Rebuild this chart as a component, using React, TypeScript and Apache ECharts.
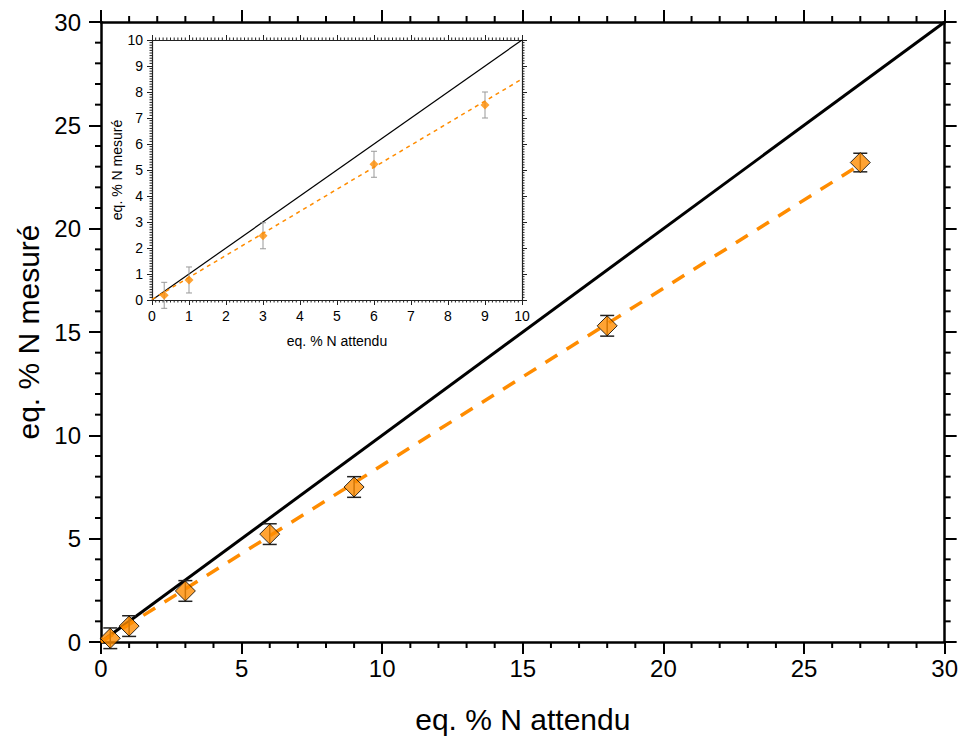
import React, { useEffect, useRef } from "react";
import * as echarts from "echarts";

// Data
const expectedN = [0.33, 1, 3, 6, 9, 18, 27];
const measuredN = [0.18, 0.77, 2.47, 5.22, 7.5, 15.3, 23.2];
const errorN = [0.5, 0.5, 0.5, 0.5, 0.5, 0.5, 0.45];

const identityX = [0, 30];
const identityY = [0, 30];
const fitX = [0, 27];
const fitY = [0.0, 23.1];

const insetIdentityX = [0, 10];
const insetIdentityY = [0, 10];
const insetFitX = [0, 10];
const insetFitY = [0.02, 8.5];

const xTitle = "eq. % N attendu";
const yTitle = "eq. % N mesuré";

const ORANGE = "#FF8C00";
const FONT = "Liberation Sans, Arial, sans-serif";

const pairs = (xs: number[], ys: number[]) => xs.map((x, i) => [x, ys[i]]);
const triples = (xs: number[], ys: number[], es: number[]) => xs.map((x, i) => [x, ys[i], es[i]]);

// minor tick positions (axis decoration, not data)
function minorTickValues(max: number, major: number, step: number) {
  const out: number[] = [];
  const n = Math.round(max / step);
  const per = Math.round(major / step);
  for (let i = 1; i < n; i++) if (i % per !== 0) out.push(+(i * step).toFixed(4));
  return out;
}

function errRender(cap: number, color: string, width: number) {
  return (params: any, api: any) => {
    const x = api.value(0);
    const y = api.value(1);
    const e = api.value(2);
    const top = api.coord([x, y + e]);
    const bot = api.coord([x, y - e]);
    const hw = cap / 2;
    const style = { stroke: color, lineWidth: width };
    return {
      type: "group",
      children: [
        { type: "line", shape: { x1: top[0], y1: top[1], x2: bot[0], y2: bot[1] }, style },
        { type: "line", shape: { x1: top[0] - hw, y1: top[1], x2: top[0] + hw, y2: top[1] }, style },
        { type: "line", shape: { x1: bot[0] - hw, y1: bot[1], x2: bot[0] + hw, y2: bot[1] }, style },
      ],
    };
  };
}

function tickRender(dim: "x" | "y", max: number, len: number, color: string, width: number) {
  return (params: any, api: any) => {
    const v = api.value(dim === "x" ? 0 : 1);
    const style = { stroke: color, lineWidth: width };
    if (dim === "x") {
      const b = api.coord([v, 0]);
      const t = api.coord([v, max]);
      return {
        type: "group",
        children: [
          { type: "line", shape: { x1: b[0], y1: b[1], x2: b[0], y2: b[1] + len }, style },
          { type: "line", shape: { x1: t[0], y1: t[1], x2: t[0], y2: t[1] - len }, style },
        ],
      };
    }
    const l = api.coord([0, v]);
    const r = api.coord([max, v]);
    return {
      type: "group",
      children: [
        { type: "line", shape: { x1: l[0], y1: l[1], x2: l[0] - len, y2: l[1] }, style },
        { type: "line", shape: { x1: r[0], y1: r[1], x2: r[0] + len, y2: r[1] }, style },
      ],
    };
  };
}

interface AxisSpec {
  grid: number;
  max: number;
  major: number;
  lineW: number;
  color: string;
  majorLen: number;
  tickW: number;
  labelSize: number;
  labelMargin: number;
  nameSize: number;
  nameGap: number;
  z: number;
}

const MAIN_X: AxisSpec = { grid: 0, max: 30, major: 5, lineW: 2.5, color: "#000", majorLen: 12, tickW: 2, labelSize: 24, labelMargin: 14, nameSize: 30, nameGap: 62, z: 0 };
const MAIN_Y: AxisSpec = { ...MAIN_X, labelMargin: 20, nameGap: 58 };
const INSET_X: AxisSpec = { grid: 1, max: 10, major: 1, lineW: 1.2, color: "#222", majorLen: 5, tickW: 1, labelSize: 14, labelMargin: 9, nameSize: 14, nameGap: 34, z: 10 };
const INSET_Y: AxisSpec = { ...INSET_X, nameGap: 28 };

function majorAxis(s: AxisSpec, position: string, showLabel: boolean, name?: string) {
  const ax: any = {
    type: "value",
    gridIndex: s.grid,
    position,
    min: 0,
    max: s.max,
    interval: s.major,
    z: s.z,
    axisLine: { show: true, onZero: false, lineStyle: { color: s.color, width: s.lineW } },
    axisTick: { show: true, inside: false, length: s.majorLen, lineStyle: { color: s.color, width: s.tickW } },
    splitLine: { show: false },
    axisLabel: {
      show: showLabel,
      fontSize: s.labelSize,
      color: "#000",
      fontFamily: FONT,
      margin: s.labelMargin,
    },
  };
  if (name) {
    ax.name = name;
    ax.nameLocation = "middle";
    ax.nameGap = s.nameGap;
    ax.nameTextStyle = { fontSize: s.nameSize, color: "#000", fontFamily: FONT };
  }
  return ax;
}

const mainMinor = minorTickValues(30, 5, 1);
const insetMinor = minorTickValues(10, 1, 0.1);

export default function App() {
  const ref = useRef<HTMLDivElement>(null);

  useEffect(() => {
    if (!ref.current) return;
    const chart = echarts.init(ref.current, undefined, { renderer: "svg" });
    const option: any = {
      animation: false,
      backgroundColor: "#fff",
      textStyle: { fontFamily: FONT },
      grid: [
        { left: 101, top: 22, width: 844, height: 620, containLabel: false },
        { left: 152, top: 40, width: 370, height: 260, containLabel: false, show: true, backgroundColor: "#fff", borderWidth: 0, z: 5 },
      ],
      xAxis: [
        majorAxis(MAIN_X, "bottom", true, xTitle),
        majorAxis(MAIN_X, "top", false),
        majorAxis(INSET_X, "bottom", true, xTitle),
        majorAxis(INSET_X, "top", false),
      ],
      yAxis: [
        majorAxis(MAIN_Y, "left", true, yTitle),
        majorAxis(MAIN_Y, "right", false),
        majorAxis(INSET_Y, "left", true, yTitle),
        majorAxis(INSET_Y, "right", false),
      ],
      series: [
        {
          type: "custom",
          xAxisIndex: 0,
          yAxisIndex: 0,
          clip: false,
          silent: true,
          data: mainMinor.map((v) => [v, 0]),
          encode: { x: 0, y: 1 },
          renderItem: tickRender("x", 30, 6, "#000", 2),
          z: 1,
        },
        {
          type: "custom",
          xAxisIndex: 0,
          yAxisIndex: 0,
          clip: false,
          silent: true,
          data: mainMinor.map((v) => [0, v]),
          encode: { x: 0, y: 1 },
          renderItem: tickRender("y", 30, 6, "#000", 2),
          z: 1,
        },
        {
          type: "line",
          xAxisIndex: 0,
          yAxisIndex: 0,
          data: pairs(identityX, identityY),
          symbol: "none",
          lineStyle: { color: "#000", width: 3 },
          z: 2,
        },
        {
          type: "line",
          xAxisIndex: 0,
          yAxisIndex: 0,
          data: pairs(fitX, fitY),
          symbol: "none",
          lineStyle: { color: ORANGE, width: 3.5, type: [14, 11] },
          z: 2,
        },
        {
          type: "custom",
          xAxisIndex: 0,
          yAxisIndex: 0,
          data: triples(expectedN, measuredN, errorN),
          encode: { x: 0, y: 1 },
          renderItem: errRender(14, "#222", 1.5),
          z: 3,
        },
        {
          type: "scatter",
          xAxisIndex: 0,
          yAxisIndex: 0,
          data: pairs(expectedN, measuredN),
          symbol: "diamond",
          symbolSize: 20,
          itemStyle: { color: ORANGE, borderColor: "#000", borderWidth: 1 },
          z: 4,
        },
        {
          type: "custom",
          xAxisIndex: 2,
          yAxisIndex: 2,
          clip: false,
          silent: true,
          data: insetMinor.map((v) => [v, 0]),
          encode: { x: 0, y: 1 },
          renderItem: tickRender("x", 10, 2.5, "#222", 1),
          z: 10,
        },
        {
          type: "custom",
          xAxisIndex: 2,
          yAxisIndex: 2,
          clip: false,
          silent: true,
          data: insetMinor.map((v) => [0, v]),
          encode: { x: 0, y: 1 },
          renderItem: tickRender("y", 10, 2.5, "#222", 1),
          z: 10,
        },
        {
          type: "line",
          xAxisIndex: 2,
          yAxisIndex: 2,
          data: pairs(insetIdentityX, insetIdentityY),
          symbol: "none",
          lineStyle: { color: "#000", width: 1.2 },
          z: 10,
        },
        {
          type: "line",
          xAxisIndex: 2,
          yAxisIndex: 2,
          data: pairs(insetFitX, insetFitY),
          symbol: "none",
          lineStyle: { color: ORANGE, width: 1.5, type: [4, 4] },
          z: 10,
        },
        {
          type: "custom",
          xAxisIndex: 2,
          yAxisIndex: 2,
          data: triples(expectedN.slice(0, 5), measuredN.slice(0, 5), errorN.slice(0, 5)),
          encode: { x: 0, y: 1 },
          renderItem: errRender(6, "#999", 1),
          z: 11,
        },
        {
          type: "scatter",
          xAxisIndex: 2,
          yAxisIndex: 2,
          data: pairs(expectedN.slice(0, 5), measuredN.slice(0, 5)),
          symbol: "diamond",
          symbolSize: 9,
          itemStyle: { color: ORANGE },
          z: 12,
        },
      ],
    };
    chart.setOption(option);
    return () => chart.dispose();
  }, []);

  return (
    <div
      ref={ref}
      style={{ position: "absolute", left: 0, top: 0, width: 961, height: 744 }}
    />
  );
}
